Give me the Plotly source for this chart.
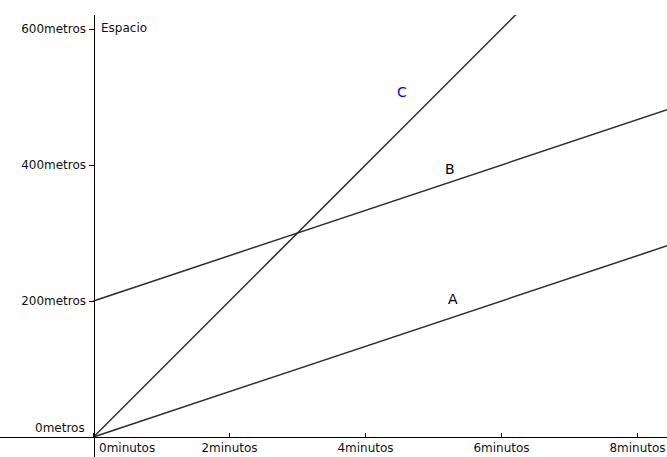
import plotly.graph_objects as go

# Data (minutes, metres)
t_vals = [0, 9]
A_vals = [0, 300]
B_vals = [200, 500]
C_vals = [0, 900]

x_ticks = [0, 2, 4, 6, 8]
x_ticktext = ["", "2minutos", "4minutos", "6minutos", "8minutos"]
y_ticks = [0, 200, 400, 600]
y_ticktext = ["", "200metros", "400metros", "600metros"]

labels = ["A", "B", "C"]
label_t = [5.28, 5.24, 4.53]
label_m = [203, 394, 507]
label_colors = ["#000000", "#000000", "#0000ff"]

W, H = 667, 457
top_m = 15
x_range = [-93.5 / 68.0, (667 - 93.5) / 68.0]
y_range = [(437 - 457) / 0.68, (437 - top_m) / 0.68]

fig = go.Figure()
line_style = dict(color="#2b2b2b", width=1.5)
for vals in (A_vals, B_vals, C_vals):
    fig.add_trace(go.Scatter(x=t_vals, y=vals, mode="lines", line=line_style,
                             hoverinfo="skip", showlegend=False))

for lab, tx, my, col in zip(labels, label_t, label_m, label_colors):
    fig.add_annotation(x=tx, y=my, text=lab, showarrow=False,
                       font=dict(size=14, color=col, family="DejaVu Sans"))

x_pos = (0 - y_range[0]) / (y_range[1] - y_range[0])
y_pos = (0 - x_range[0]) / (x_range[1] - x_range[0])

tick_font = dict(size=12, color="#111111", family="DejaVu Sans")

fig.update_layout(
    width=W, height=H,
    margin=dict(l=0, r=0, t=top_m, b=0, autoexpand=False),
    paper_bgcolor="white", plot_bgcolor="white",
    xaxis=dict(range=x_range, anchor="free", position=x_pos, automargin=False,
               showgrid=False, zeroline=False, showline=True,
               linecolor="black", linewidth=1,
               tickmode="array", tickvals=x_ticks, ticktext=x_ticktext,
               ticks="inside", ticklen=4, tickcolor="black",
               ticklabelstandoff=0,
               tickfont=tick_font),
    yaxis=dict(range=y_range, anchor="free", position=y_pos, automargin=False,
               showgrid=False, zeroline=False, showline=True,
               linecolor="black", linewidth=1,
               tickmode="array", tickvals=y_ticks, ticktext=y_ticktext,
               ticks="outside", ticklen=5, tickcolor="black",
               tickfont=tick_font),
)

fig.add_annotation(x=0, y=0, text="0minutos", showarrow=False,
                   xanchor="left", yanchor="top", xshift=3, yshift=-2,
                   font=tick_font)
fig.add_annotation(x=0, y=0, text="0metros", showarrow=False,
                   xanchor="right", yanchor="middle", xshift=-7, yshift=9,
                   font=tick_font)
fig.add_annotation(x=0, y=600, text="Espacio", showarrow=False,
                   xanchor="left", yanchor="middle", xshift=5, yshift=1,
                   font=tick_font)

fig.write_html("out.html", config={"displayModeBar": False},
               post_script="document.body.style.margin='0px';document.body.style.overflow='hidden';")
